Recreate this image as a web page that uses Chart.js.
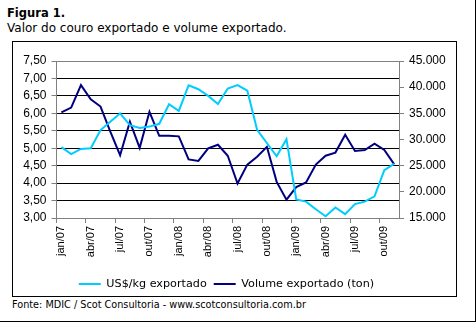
<!DOCTYPE html>
<html><head><meta charset="utf-8">
<script src="https://cdn.jsdelivr.net/npm/chart.js@4.4.0/dist/chart.umd.min.js"></script>
<style>
html,body{margin:0;padding:0;background:#fff;}
#page{position:relative;width:476px;height:322px;overflow:hidden;background:#fff;}
#outer{position:absolute;left:0;top:0;width:476px;height:322px;box-sizing:border-box;border-right:1px solid #000;border-bottom:1px solid #000;}
#box{position:absolute;left:12px;top:41px;width:445px;height:256px;box-sizing:border-box;border:1px solid #000;}
.t{position:absolute;white-space:nowrap;font-family:"DejaVu Sans";color:#000;}
#title{left:7px;top:8px;font-size:11.5px;line-height:11.5px;font-weight:bold;}
#sub{left:7px;top:21.5px;font-size:12px;line-height:12px;}
#src{left:12px;top:299.5px;font-size:9.7px;line-height:9.7px;}
canvas{position:absolute;left:0;top:0;}
</style></head>
<body><div id="page">
<div id="outer"></div><div id="box"></div>
<div class="t" id="title">Figura 1.</div>
<div class="t" id="sub">Valor do couro exportado e volume exportado.</div>
<div class="t" id="src">Fonte: MDIC / Scot Consultoria - www.scotconsultoria.com.br</div>
<canvas id="c" width="476" height="322"></canvas>
</div>
<script>
const categories = [
  'jan/07','fev/07','mar/07','abr/07','mai/07','jun/07','jul/07','ago/07','set/07','out/07','nov/07','dez/07',
  'jan/08','fev/08','mar/08','abr/08','mai/08','jun/08','jul/08','ago/08','set/08','out/08','nov/08','dez/08',
  'jan/09','fev/09','mar/09','abr/09','mai/09','jun/09','jul/09','ago/09','set/09','out/09','nov/09'
];
const usdPerKg = [
  5.03, 4.83, 4.98, 5.00, 5.52, 5.76, 6.00, 5.66, 5.58, 5.62, 5.70, 6.26,
  6.07, 6.80, 6.69, 6.50, 6.27, 6.71, 6.81, 6.65, 5.53, 5.15, 4.77, 5.26,
  3.53, 3.47, 3.25, 3.05, 3.30, 3.11, 3.40, 3.47, 3.62, 4.37, 4.55
];
const volumeTon = [
  35200, 36100, 40400, 37700, 36300, 31500, 27000, 33400, 28400, 35300, 30700, 30700,
  30600, 26200, 25900, 28300, 29000, 26900, 21600, 25200, 26700, 28600, 21900, 18500,
  20900, 21800, 25200, 26900, 27500, 30900, 27800, 28000, 29200, 28000, 25300
];
const leftTicks = [3.0, 3.5, 4.0, 4.5, 5.0, 5.5, 6.0, 6.5, 7.0, 7.5];
const rightTicks = [15000, 20000, 25000, 30000, 35000, 40000, 45000];
const seriesNames = ['US$/kg exportado', 'Volume exportado (ton)'];

const GRAY = '#808080';
function fmtThousands(v) {
  return String(Math.round(v)).replace(/\B(?=(\d{3})+(?!\d))/g, '.');
}

new Chart(document.getElementById('c'), {
  type: 'line',
  data: {
    labels: categories,
    datasets: [
      { label: seriesNames[0], data: usdPerKg, yAxisID: 'y', borderColor: '#00CCFF', backgroundColor: '#00CCFF',
        borderWidth: 2, pointRadius: 0, tension: 0 },
      { label: seriesNames[1], data: volumeTon, yAxisID: 'y1', borderColor: '#000080', backgroundColor: '#000080',
        borderWidth: 2, pointRadius: 0, tension: 0 }
    ]
  },
  options: {
    responsive: false,
    animation: false,
    devicePixelRatio: 1,
    layout: { padding: { left: 0, right: 23.1, top: 61, bottom: 22.4 } },
    plugins: {
      tooltip: { enabled: false },
      legend: {
        position: 'bottom', align: 'center',
        labels: { usePointStyle: true, pointStyle: 'line', pointStyleWidth: 22, padding: 7, color: '#000',
          font: { family: 'DejaVu Sans', size: 11.2 } }
      }
    },
    scales: {
      x: {
        type: 'category', offset: true,
        grid: { offset: true, drawOnChartArea: false, drawTicks: true, tickLength: 5, lineWidth: 1,
          color: c => (c.index !== undefined && c.index % 3 === 0) ? GRAY : 'rgba(0,0,0,0)' },
        border: { color: GRAY },
        ticks: { autoSkip: false, minRotation: 90, maxRotation: 90, padding: 3, color: '#000',
          font: { family: 'Liberation Sans', size: 11 },
          callback: (v, i) => (i % 3 === 0 ? categories[i] : '') },
        afterFit: s => { s.height = 53.4; }
      },
      y: {
        position: 'left', min: 3, max: 7.5,
        afterBuildTicks: s => { s.ticks = leftTicks.map(v => ({ value: v })); },
        grid: { lineWidth: 1, tickLength: 5, tickColor: GRAY,
          color: c => (c.tick && (c.tick.value === 7.5 || c.tick.value === 3)) ? GRAY : '#000' },
        border: { color: GRAY },
        ticks: { padding: 5, color: '#000', font: { family: 'Liberation Sans', size: 12 },
          callback: v => Number(v).toFixed(2).replace('.', ',') },
        afterFit: s => { s.width = 56.5; }
      },
      y1: {
        position: 'right', min: 15000, max: 45000,
        afterBuildTicks: s => { s.ticks = rightTicks.map(v => ({ value: v })); },
        grid: { drawOnChartArea: false, tickLength: 5, color: GRAY, lineWidth: 1 },
        border: { color: GRAY },
        ticks: { padding: 5, color: '#000', font: { family: 'Liberation Sans', size: 12 },
          callback: v => fmtThousands(v) },
        afterFit: s => { s.width = 53.9; }
      }
    }
  }
});
</script>
</body></html>
